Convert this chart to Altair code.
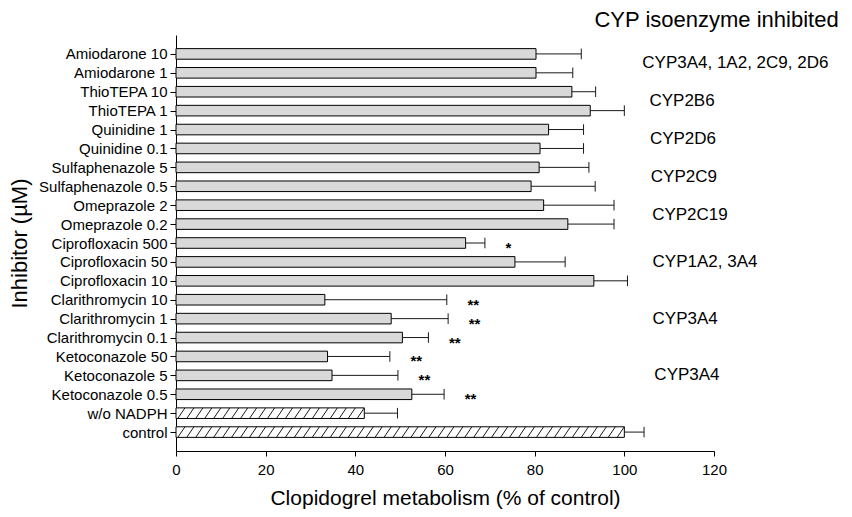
import json
import altair as alt
import pandas as pd

# ---------------- data ----------------
inhibitors = [
    "Amiodarone 10", "Amiodarone 1", "ThioTEPA 10", "ThioTEPA 1",
    "Quinidine 1", "Quinidine 0.1", "Sulfaphenazole 5", "Sulfaphenazole 0.5",
    "Omeprazole 2", "Omeprazole 0.2", "Ciprofloxacin 500", "Ciprofloxacin 50",
    "Ciprofloxacin 10", "Clarithromycin 10", "Clarithromycin 1",
    "Clarithromycin 0.1", "Ketoconazole 50", "Ketoconazole 5",
    "Ketoconazole 0.5", "w/o NADPH", "control",
]
means = [80.3, 80.3, 88.3, 92.4, 83.1, 81.2, 81.0, 79.2, 82.0, 87.4, 64.6,
         75.6, 93.2, 33.2, 48.0, 50.5, 33.8, 34.8, 52.6, 42.0, 100.0]
upper = [90.4, 88.5, 93.6, 100.0, 90.9, 90.9, 92.1, 93.5, 97.7, 97.7, 68.9,
         86.8, 100.7, 60.4, 60.7, 56.3, 47.7, 49.5, 59.8, 49.4, 104.4]
signif = ["", "", "", "", "", "", "", "", "", "", "*", "", "",
          "**", "**", "**", "**", "**", "**", "", ""]
kind = ["plain"] * 19 + ["hatch", "hatch"]

cyp_labels = ["CYP3A4, 1A2, 2C9, 2D6", "CYP2B6", "CYP2D6", "CYP2C9",
              "CYP2C19", "CYP1A2, 3A4", "CYP3A4", "CYP3A4"]
cyp_rows = [[0, 1], [2, 3], [4, 5], [6, 7], [8, 9], [10, 11, 12],
            [13, 14, 15], [16, 17, 18]]
label_x = [104.0, 105.6, 105.7, 105.9, 106.2, 106.3, 106.3, 106.7]

panel_title = "CYP isoenzyme inhibited"

# ---------------- styling constants ----------------
FONT = "Liberation Sans"
HALF = 0.28          # half bar thickness (in category units)
STAR_GAP = 4.6       # gap between whisker cap and significance stars
HATCH_STEP = 2.0     # spacing of hatch lines (x units)
HATCH_RUN = 1.6      # horizontal run of one hatch line across bar

df = pd.DataFrame({
    "idx": list(range(len(inhibitors))),
    "name": inhibitors,
    "mean": means,
    "upper": upper,
    "sig": signif,
    "kind": kind,
})
df["zero"] = 0.0
df["lo"] = df["idx"] - HALF
df["hi"] = df["idx"] + HALF
df["star_x"] = df["upper"] + STAR_GAP

# hatch segments ("/") computed for the hatched bars
hatch_rows = []
for i, (m, k) in enumerate(zip(means, kind)):
    if k != "hatch":
        continue
    bottom = i + HALF
    height = 2 * HALF
    x0 = -HATCH_RUN
    while x0 < m:
        t0 = max(0.0, (0.0 - x0) / HATCH_RUN)
        t1 = min(1.0, (m - x0) / HATCH_RUN)
        if t0 < t1:
            hatch_rows.append({
                "hx": x0 + HATCH_RUN * t0, "hx2": x0 + HATCH_RUN * t1,
                "hy": bottom - height * t0, "hy2": bottom - height * t1,
            })
        x0 += HATCH_STEP
hatch_df = pd.DataFrame(hatch_rows)

lab_df = pd.DataFrame({
    "label": cyp_labels,
    "ly": [sum(r) / len(r) for r in cyp_rows],
    "lx": label_x,
})

title_df = pd.DataFrame({"t": [panel_title], "tx": [147.8], "ty": [-1.42]})

# ---------------- scales / axes ----------------
xscale = alt.Scale(domain=[0, 120], nice=False, zero=False)
yscale = alt.Scale(domain=[-1, 21], reverse=True, nice=False, zero=False)

label_expr = "[" + ",".join(json.dumps(n) for n in inhibitors) + "][datum.value]"

xaxis = alt.Axis(
    values=[0, 20, 40, 60, 80, 100, 120],
    title="Clopidogrel metabolism (% of control)",
    grid=False, tickSize=5, labelPadding=6, titlePadding=10,
    labelFontSize=15, titleFontSize=21, labelFont=FONT, titleFont=FONT,
    titleFontWeight="normal", domainColor="black", tickColor="black",
    labelColor="black", titleColor="black", labelFlush=False,
)
yaxis = alt.Axis(
    values=list(range(len(inhibitors))), labelExpr=label_expr,
    title="Inhibitor (\u00b5M)",
    grid=False, tickSize=6, labelPadding=3, titlePadding=7,
    labelFontSize=15, titleFontSize=22, labelFont=FONT, titleFont=FONT,
    titleFontWeight="normal", domainColor="black", tickColor="black",
    labelColor="black", titleColor="black", labelFlush=False,
    labelOverlap=False,
)


def X(field):
    return alt.X(field, type="quantitative", scale=xscale, axis=xaxis)


def Y(field):
    return alt.Y(field, type="quantitative", scale=yscale, axis=yaxis)


base = alt.Chart(df)

bars = base.mark_rect(stroke="black", strokeWidth=1).encode(
    x=X("zero"), x2="mean",
    y=Y("lo"), y2="hi",
    fill=alt.Fill("kind:N", scale=alt.Scale(domain=["plain", "hatch"],
                                             range=["#d9d9d9", "white"]),
                  legend=None),
)

hatch = alt.Chart(hatch_df).mark_rule(color="black", strokeWidth=0.9).encode(
    x=X("hx"), x2="hx2", y=Y("hy"), y2="hy2",
)

err = base.mark_rule(color="#1a1a1a", strokeWidth=1).encode(
    x=X("mean"), x2="upper", y=Y("idx"),
)

caps = base.mark_rule(color="#1a1a1a", strokeWidth=1).encode(
    x=X("upper"), y=Y("lo"), y2="hi",
)

stars = base.transform_filter("datum.sig != ''").mark_text(
    align="left", baseline="middle", dy=5, fontSize=15, fontWeight="bold",
    font=FONT, color="black",
).encode(x=X("star_x"), y=Y("idx"), text="sig:N")

labels = alt.Chart(lab_df).mark_text(
    align="left", baseline="middle", fontSize=17, font=FONT, color="black",
).encode(x=X("lx"), y=Y("ly"), text="label:N")

head = alt.Chart(title_df).mark_text(
    align="right", baseline="alphabetic", fontSize=22, font=FONT,
    color="black",
).encode(x=X("tx"), y=Y("ty"), text="t:N")

chart = alt.layer(bars, hatch, err, caps, stars, labels, head).properties(
    width=538, height=416,
    autosize=alt.AutoSizeParams(type="none"),
    padding={"left": 168, "top": 27, "right": 130, "bottom": 58},
).configure_view(stroke=None)

chart.save("out.html", embed_options={"renderer": "svg", "actions": False})
